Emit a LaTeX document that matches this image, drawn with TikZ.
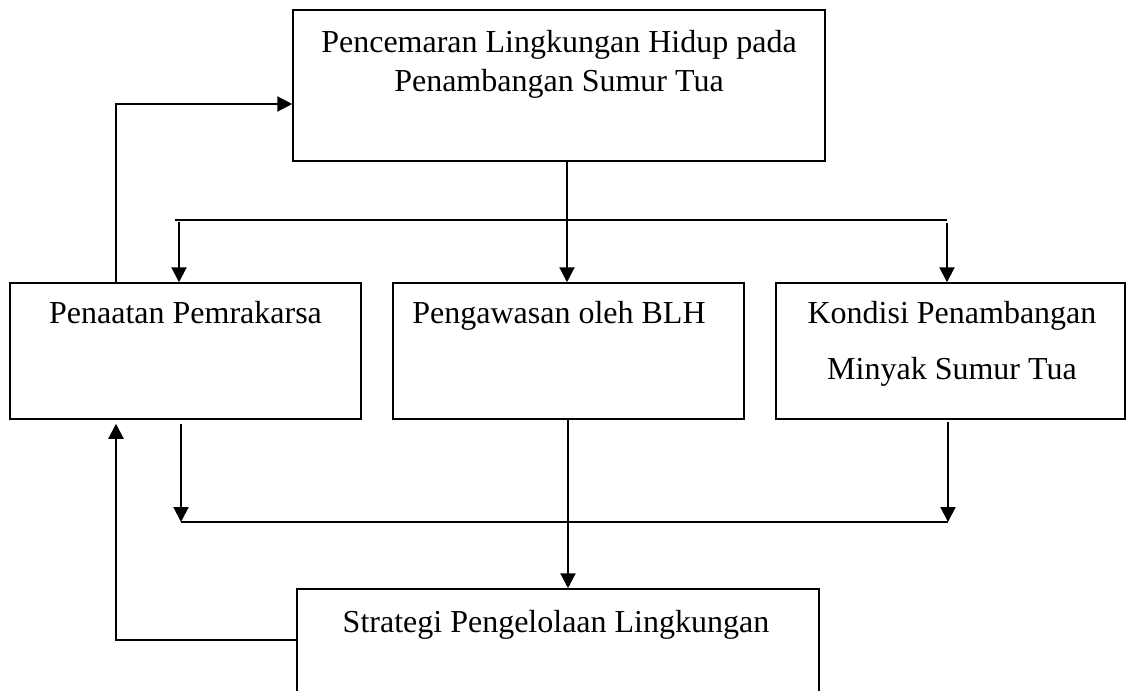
\documentclass[tikz,border=0pt]{standalone}
\usepackage{fontspec}
\setmainfont{Liberation Serif}
\usetikzlibrary{arrows.meta}
\begin{document}
\begin{tikzpicture}[x=0.5pt,y=-0.5pt,
  box/.style={draw,line width=0.75pt,rectangle,inner sep=0pt},
  txt/.style={font=\fontsize{16}{19}\selectfont,inner sep=0pt,anchor=base},
  arr/.style={-{Triangle[width=7.5pt,length=7.5pt]},line width=1.05pt},
  ln/.style={line width=0.8pt}]
\useasboundingbox (0,0) rectangle (1126,691);
\clip (0,0) rectangle (1126,691);
% boxes
\node[box,minimum width=266pt,minimum height=75.5pt] (top) at (559,85.5) {};
\node[box,minimum width=175.5pt,minimum height=68pt] (left) at (185.5,351) {};
\node[box,minimum width=175.5pt,minimum height=68pt] (mid) at (568.5,351) {};
\node[box,minimum width=174.5pt,minimum height=68pt] (right) at (950.5,351) {};
\node[box,minimum width=261pt,minimum height=65.5pt] (bot) at (558,654.5) {};
% texts
\node[txt] (t1a) at (559,52) {Pencemaran Lingkungan Hidup pada};
\node[txt] (t1b) at (559,91) {Penambangan Sumur Tua};
\node[txt] (tl) at (185.5,323) {Penaatan Pemrakarsa};
\node[txt] (tm) at (559,323) {Pengawasan oleh BLH};
\node[txt] (tr1) at (952,323) {Kondisi Penambangan};
\node[txt] (tr2) at (952,379) {Minyak Sumur Tua};
\node[txt] (tb) at (556,632) {Strategi Pengelolaan Lingkungan};
% upper distribution
\coordinate (bus1L) at (175,220);
\coordinate (bus1R) at (947,220);
\coordinate (a1) at (179,222);
\coordinate (a2) at (947,223);
\coordinate (m1) at (567,161);
\draw[ln] (bus1L) -- (bus1R);
\draw[arr] (m1) -- (m1 |- mid.north);
\draw[arr] (a1) -- (a1 |- left.north);
\draw[arr] (a2) -- (a2 |- right.north);
% feedback to top
\coordinate (fb) at (116,104);
\draw[arr] (fb |- left.north) -- (fb) -- (fb -| top.west);
% lower collection
\coordinate (b1) at (181,424);
\coordinate (b2) at (948,422);
\coordinate (bus2L) at (181,522);
\coordinate (bus2R) at (948,522);
\draw[ln] (bus2L) -- (bus2R);
\draw[arr] (b1) -- (bus2L);
\draw[arr] (b2) -- (bus2R);
\coordinate (m2) at (568,419);
\draw[arr] (m2) -- (m2 |- bot.north);
% feedback from bottom
\coordinate (fb2) at (116,640);
\draw[arr,shorten >=2pt] (fb2 -| bot.west) -- (fb2) -- (fb2 |- left.south);
\end{tikzpicture}
\end{document}
